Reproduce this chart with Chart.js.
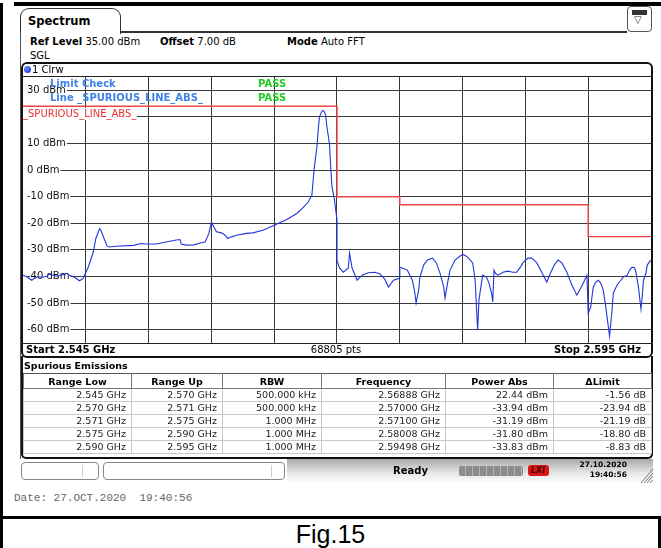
<!DOCTYPE html>
<html><head><meta charset="utf-8">
<script src="https://cdn.jsdelivr.net/npm/chart.js@4.4.0/dist/chart.umd.min.js"></script>
<style>
html,body{margin:0;padding:0;background:#fff;}
body{width:661px;height:548px;position:relative;overflow:hidden;font-family:"DejaVu Sans",Verdana,sans-serif;color:#000;}
.a{position:absolute;box-sizing:border-box;}
.t{position:absolute;white-space:nowrap;line-height:10px;font-size:10px;}
.b{font-weight:bold;}
#c{position:absolute;left:23px;top:77px;}
table.sp{position:absolute;left:23px;top:373px;width:628px;border-collapse:collapse;table-layout:fixed;font-size:9.5px;}
table.sp th{height:14px;padding:0;font-weight:bold;border-left:1px solid #777;border-right:1px solid #777;border-top:1px solid #555;border-bottom:1px solid #777;line-height:13px;text-align:center;}
table.sp td{height:12px;padding:0 5px 0 0;border:1px solid #c8c8c8;line-height:12px;text-align:right;color:#222;}
</style></head><body>
<!-- outer frame -->
<div class="a" style="left:0;top:3px;width:3px;height:545px;background:#000"></div>
<div class="a" style="left:14px;top:2px;width:647px;height:4px;background:#000"></div>
<div class="a" style="left:0;top:516px;width:661px;height:3px;background:#000"></div>
<div class="a" style="left:658px;top:516px;width:3px;height:32px;background:#000"></div>
<div class="t" style="left:0;width:661px;top:522px;text-align:center;font-family:'Liberation Sans',Arial,sans-serif;font-size:25px;line-height:25px">Fig.15</div>

<!-- window / tab -->
<div class="a" style="left:20px;top:8px;width:101px;height:26px;border:1px solid #333;border-bottom:none;border-radius:9px 9px 0 0;background:#fff"></div>
<div class="a" style="left:120px;top:31px;width:507px;height:2px;background:#333"></div>
<div class="a" style="left:20px;top:33px;width:1px;height:426px;background:#555"></div>
<div class="t b" style="left:28px;top:15px;font-size:11.5px;line-height:12px">Spectrum</div>
<div class="a" style="left:627px;top:6px;width:25px;height:26px;border:1px solid #555;border-radius:4px;background:#fff"></div>
<div class="a" style="left:632px;top:10px;width:15px;height:5px;background:#333;z-index:2"></div>
<div class="t" style="left:634px;top:15px;font-size:10px;color:#333;z-index:2">▽</div>

<div class="t" style="left:30px;top:37px"><span class="b">Ref Level</span> 35.00 dBm</div>
<div class="t" style="left:160px;top:37px"><span class="b">Offset</span> 7.00 dB</div>
<div class="t" style="left:287px;top:37px"><span class="b">Mode</span> Auto FFT</div>
<div class="t" style="left:30px;top:51px">SGL</div>

<!-- chart -->
<canvas id="c" width="628" height="266"></canvas>

<!-- plot frame -->
<div class="a" style="left:21px;top:62px;width:632px;height:296px;border:2px solid #111;border-radius:6px;"></div>
<div class="a" style="left:22px;top:76px;width:630px;height:1px;background:#222"></div>
<div class="a" style="left:22px;top:343px;width:630px;height:1px;background:#222"></div>
<div class="a" style="left:24px;top:66px;width:7px;height:7px;border-radius:50%;background:radial-gradient(circle at 35% 35%,#6a8cff,#1030c0)"></div>
<div class="t" style="left:32px;top:65px">1 Clrw</div>

<!-- limit check overlays -->
<div class="t b" style="left:50px;top:79px;color:#3f82e6">Limit Check</div>
<div class="t b" style="left:258px;top:79px;color:#22cc22">PASS</div>
<div class="t b" style="left:50px;top:93px;color:#3f82e6">Line _SPURIOUS_LINE_ABS_</div>
<div class="t b" style="left:258px;top:93px;color:#22cc22">PASS</div>
<div class="t" style="left:23px;top:108px;height:12px;line-height:11px;padding-right:1px;background:#fff;color:#e83030">_SPURIOUS_LINE_ABS_</div>

<div class="t b" style="left:26px;top:345px">Start 2.545 GHz</div>
<div class="t" style="left:236px;width:200px;text-align:center;top:345px">68805 pts</div>
<div class="t b" style="right:20px;top:345px">Stop 2.595 GHz</div>

<!-- table -->
<div class="a" style="left:21px;top:356px;width:632px;height:103px;border:2px solid #111;border-top:none;border-radius:0 0 5px 5px"></div>
<div class="t b" style="left:24px;top:361px;font-size:9.5px">Spurious Emissions</div>
<table class="sp" id="tbl">
<colgroup><col style="width:108px"><col style="width:91px"><col style="width:99px"><col style="width:124px"><col style="width:108px"><col style="width:98px"></colgroup>
<thead><tr id="hdr"></tr></thead><tbody id="tb"></tbody></table>

<!-- status bar -->
<div class="a" style="left:287px;top:459px;width:366px;height:25px;background:linear-gradient(#a9a9a9,#e6e6e6 55%,#fff)"></div>
<div class="a" style="left:21px;top:462px;width:78px;height:18px;border:1px solid #888;border-radius:4px;background:#fff"></div>
<div class="a" style="left:82px;top:465px;width:1px;height:12px;background:#ccc"></div>
<div class="a" style="left:103px;top:462px;width:182px;height:18px;border:1px solid #888;border-radius:4px;background:#fff"></div>
<div class="a" style="left:271px;top:465px;width:1px;height:12px;background:#ccc"></div>
<div class="t b" style="left:393px;top:466px">Ready</div>
<div class="a" style="left:459px;top:466px;width:64px;height:10px;border-radius:2px;background:repeating-linear-gradient(90deg,#8c8c8c 0 6px,#b5b5b5 6px 7px)"></div>
<div class="a" style="left:528px;top:465px;width:21px;height:11px;border-radius:3px;background:#d81818"></div>
<div class="t b" style="left:531px;top:466px;font-size:8px;line-height:9px;font-style:italic;color:#400">LXI</div>
<div class="t b" style="right:34px;top:461px;font-size:7.5px;line-height:8px;text-align:right">27.10.2020</div>
<div class="t b" style="right:34px;top:471px;font-size:7.5px;line-height:8px;text-align:right">19:40:56</div>
<svg class="a" style="left:640px;top:464px" width="14" height="20"><g stroke="#777" stroke-width="1"><line x1="1" y1="19" x2="13" y2="5"/><line x1="4" y1="19" x2="13" y2="9"/><line x1="7" y1="19" x2="13" y2="12"/><line x1="10" y1="19" x2="13" y2="16"/></g></svg>

<div class="t" style="left:14px;top:493px;font-family:'Liberation Mono','Courier New',monospace;font-size:11px;line-height:11px;color:#666">Date: 27.OCT.2020&nbsp; 19:40:56</div>

<script>
// ---- data ----
const yTickValues = [30, 20, 10, 0, -10, -20, -30, -40, -50, -60];
const xGridGHz = [2.550, 2.555, 2.560, 2.565, 2.570, 2.575, 2.580, 2.585, 2.590];
const limitFreq = [2.545, 2.570, 2.570, 2.575, 2.575, 2.590, 2.590, 2.595];
const limitLevel = [24, 24, -10, -10, -13, -13, -25, -25];

const traceFreq = [
 2.5450,2.5453,2.5457,2.5459,2.5462,2.5466,2.5469,2.5471,2.5474,2.5477,
 2.5479,2.5483,2.5485,2.5487,2.5491,2.5495,2.5498,2.5499,2.5502,2.5506,
 2.5508,2.5511,2.5512,2.5515,2.5517,2.5519,2.5524,2.5538,2.5544,2.5548,
 2.5556,2.5564,2.5572,2.5575,2.5576,2.5580,2.5586,2.5591,2.5595,2.5598,
 2.5600,2.5602,2.5604,2.5608,2.5611,2.5613,2.5616,2.5620,2.5628,2.5633,
 2.5641,2.5650,2.5660,2.5668,2.5673,2.5677,2.5680,2.5681,2.5682,2.5684,
 2.5685,2.5686,2.5688,2.56888,2.5690,2.5691,2.5692,2.5694,2.5695,2.5696,
 2.5698,2.5699,2.56998,
 2.5700,2.5702,2.5705,2.5707,2.5709,2.5710,2.5712,
 2.5716,2.5720,2.5725,2.5730,2.5734,2.5738,2.5741,2.5745,2.5750,
 2.5750,2.5752,2.5756,2.5760,2.5762,2.5763,2.5765,2.5766,2.5769,2.5772,
 2.5776,2.5779,2.5782,2.5785,2.5786,2.5788,2.5790,2.5794,2.5798,2.58008,
 2.5804,2.5808,2.5810,2.5811,2.5812,2.5813,2.5815,2.5816,2.5819,2.5821,
 2.5823,2.5824,2.5825,2.5826,2.5828,2.5830,2.5832,2.5836,2.5840,2.5843,
 2.5846,2.5848,2.5852,2.5855,2.5859,2.5863,2.5867,2.5870,2.5873,2.5876,
 2.5879,2.5883,2.5887,2.5891,2.5894,2.5896,2.5899,
 2.5900,2.5902,2.5903,2.5904,2.5906,2.5908,2.5910,2.5912,2.5914,2.5917,
 2.5919,2.5920,2.5923,2.5926,2.5928,2.5931,2.5933,2.5935,2.5937,2.5938,
 2.5940,2.5942,2.5943,2.5944,2.5946,2.5947,2.59498
];
const traceLevel = [
 -39.5,-40.1,-41.4,-40.7,-40.1,-40.3,-39.9,-39.1,-39.5,-39.9,
 -39.6,-39.1,-38.8,-39.5,-40.3,-41.6,-40.7,-39.5,-36.4,-30.7,
 -25.7,-22.0,-22.6,-26.3,-28.6,-28.9,-28.6,-28.3,-27.6,-27.8,
 -27.8,-27.0,-26.3,-26.1,-27.8,-28.2,-28.1,-27.4,-27.0,-23.8,
 -19.5,-21.4,-23.2,-23.6,-24.5,-25.7,-25.1,-24.5,-23.8,-23.6,
 -22.6,-20.7,-18.6,-16.3,-14.1,-12.0,-9.5,-3.8,1.2,8.7,
 14.9,19.9,22.2,22.44,21.9,20.6,16.2,9.9,1.2,-6.3,
 -11.3,-15.1,-18.1,
 -33.94,-36.8,-38.4,-37.6,-36.8,-31.19,-36.8,
 -41.4,-39.5,-38.6,-38.4,-39.0,-41.0,-44.0,-41.4,-40.6,
 -36.5,-36.8,-37.6,-41.4,-46.2,-50.0,-45.1,-40.2,-35.7,-33.8,
 -33.1,-34.8,-38.7,-44.0,-48.1,-42.5,-37.6,-33.8,-32.3,-31.80,
 -32.7,-34.9,-41.4,-51.5,-60.1,-48.9,-42.5,-39.5,-40.2,-42.5,
 -46.2,-49.6,-37.6,-38.7,-39.5,-39.1,-38.4,-38.0,-38.4,-38.4,
 -36.5,-34.9,-33.1,-33.1,-34.8,-38.4,-42.1,-38.7,-35.7,-33.8,
 -34.9,-38.4,-43.2,-47.0,-44.4,-42.5,-39.5,
 -53.7,-51.5,-47.7,-44.0,-42.1,-41.4,-42.5,-45.1,-51.5,-62.4,
 -52.6,-46.2,-43.2,-41.4,-40.2,-39.5,-37.6,-36.5,-36.8,-38.4,
 -44.0,-52.2,-47.7,-41.4,-38.7,-35.7,-33.83
];

// table
const colHeaders = ['Range Low', 'Range Up', 'RBW', 'Frequency', 'Power Abs', 'ΔLimit'];
const rangeLow = ['2.545 GHz', '2.570 GHz', '2.571 GHz', '2.575 GHz', '2.590 GHz'];
const rangeUp = ['2.570 GHz', '2.571 GHz', '2.575 GHz', '2.590 GHz', '2.595 GHz'];
const rbw = ['500.000 kHz', '500.000 kHz', '1.000 MHz', '1.000 MHz', '1.000 MHz'];
const peakFreq = ['2.56888 GHz', '2.57000 GHz', '2.57100 GHz', '2.58008 GHz', '2.59498 GHz'];
const powerAbs = ['22.44 dBm', '-33.94 dBm', '-31.19 dBm', '-31.80 dBm', '-33.83 dBm'];
const deltaLimit = ['-1.56 dB', '-23.94 dB', '-21.19 dB', '-18.80 dB', '-8.83 dB'];

// build table
const hdr = document.getElementById('hdr');
colHeaders.forEach(h => { const th = document.createElement('th'); th.textContent = h; hdr.appendChild(th); });
const tb = document.getElementById('tb');
for (let i = 0; i < rangeLow.length; i++) {
  const tr = document.createElement('tr');
  [rangeLow[i], rangeUp[i], rbw[i], peakFreq[i], powerAbs[i], deltaLimit[i]].forEach(v => {
    const td = document.createElement('td'); td.textContent = v; tr.appendChild(td);
  });
  tb.appendChild(tr);
}

// chart
const tracePts = traceFreq.map((f, i) => ({x: f, y: traceLevel[i]}));
const limitPts = limitFreq.map((f, i) => ({x: f, y: limitLevel[i]}));

new Chart(document.getElementById('c'), {
  type: 'scatter',
  data: {
    datasets: [
      {data: limitPts, showLine: true, borderColor: '#ee4646', borderWidth: 1.4, pointRadius: 0, tension: 0, order: 2},
      {data: tracePts, showLine: true, borderColor: '#2236de', borderWidth: 1.1, pointRadius: 0, tension: 0, order: 1}
    ]
  },
  options: {
    responsive: false, animation: false, events: [],
    layout: {padding: 0},
    plugins: {legend: {display: false}, tooltip: {enabled: false}},
    scales: {
      x: {
        type: 'linear', min: 2.545, max: 2.595,
        afterBuildTicks: s => { s.ticks = xGridGHz.map(v => ({value: v})); },
        afterFit: s => { s.height = 0; s.paddingLeft = 0; s.paddingRight = 0; },
        grid: {color: '#3a3a3a', lineWidth: 1, drawTicks: false},
        border: {display: false},
        ticks: {display: false}
      },
      y: {
        type: 'linear', min: -65, max: 35,
        afterBuildTicks: s => { s.ticks = yTickValues.map(v => ({value: v})); },
        afterFit: s => { s.width = 0; s.paddingTop = 0; s.paddingBottom = 0; },
        grid: {color: '#3a3a3a', lineWidth: 1, drawTicks: false},
        border: {display: false},
        ticks: {
          mirror: true, padding: 4, color: '#111',
          font: {family: 'DejaVu Sans', size: 10},
          callback: v => v + ' dBm',
          showLabelBackdrop: true, backdropColor: '#ffffff',
          backdropPadding: {top: 0, bottom: 0, left: 4, right: 1}
        }
      }
    }
  }
});
</script>
</body></html>
